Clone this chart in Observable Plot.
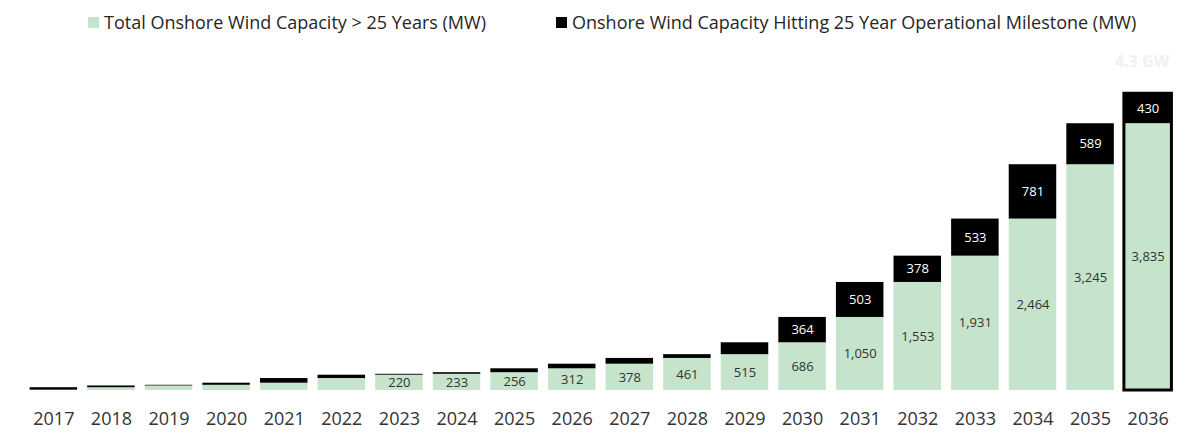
<!DOCTYPE html>
<html>
<head>
<meta charset="utf-8">
<script src="https://cdn.jsdelivr.net/npm/d3@7"></script>
<script src="https://cdn.jsdelivr.net/npm/@observablehq/plot@0.6"></script>
<style>
  html, body { margin: 0; padding: 0; background: #fff; overflow: hidden; }
  body { width: 1200px; height: 443px; font-family: "Open Sans", sans-serif; }
  #legend { position: relative; height: 40px; font-size: 18px; color: #262626; }
  .item { position: absolute; top: 10px; display: flex; align-items: center; white-space: nowrap; }
  .sw { width: 11px; height: 11px; margin-right: 5px; display: inline-block; }
  #chart svg { display: block; }
</style>
</head>
<body>
<div id="legend"></div>
<div id="chart"></div>
<script>
const years = ["2017","2018","2019","2020","2021","2022","2023","2024","2025","2026","2027","2028","2029","2030","2031","2032","2033","2034","2035","2036"];
const totalOver25 = [5, 40, 65, 75, 105, 172, 220, 233, 256, 312, 378, 461, 515, 686, 1050, 1553, 1931, 2464, 3245, 3835];
const hitting = [35, 25, 10, 30, 67, 48, 13, 23, 56, 66, 83, 54, 171, 364, 503, 378, 533, 781, 589, 430];
const seriesNames = ["Total Onshore Wind Capacity > 25 Years (MW)", "Onshore Wind Capacity Hitting 25 Year Operational Milestone (MW)"];
const seriesColors = ["#c5e4cb", "#000000"];
const highlightYear = "2036";
const annotation = "4.3 GW";

const rows = years.map((year, i) => ({
  year,
  green: totalOver25[i],
  black: hitting[i],
  total: totalOver25[i] + hitting[i]
}));
const fmt = d3.format(",");

// Legend
const legend = document.getElementById("legend");
const legendLeft = [88, 556];
seriesNames.forEach((name, i) => {
  const it = document.createElement("div");
  it.className = "item";
  it.style.left = legendLeft[i] + "px";
  it.innerHTML = `<span class="sw" style="background:${seriesColors[i]}"></span><span>${name}</span>`;
  legend.appendChild(it);
});

const chart = Plot.plot({
  width: 1200,
  height: 403,
  marginLeft: 19.5,
  marginRight: 18.5,
  marginTop: 23,
  marginBottom: 53,
  style: { fontFamily: "Open Sans, sans-serif", background: "#fff" },
  x: { domain: years, padding: 0.175, round: false, label: null },
  y: { domain: [0, 4700], axis: null },
  marks: [
    Plot.axisX({ tickSize: 0, tickPadding: 22, fontSize: 18, color: "#333", label: null }),
    Plot.barY(rows, { x: "year", y1: 0, y2: "green", fill: seriesColors[0] }),
    Plot.barY(rows, { x: "year", y1: "green", y2: "total", fill: seriesColors[1] }),
    Plot.barY(rows.filter(d => d.year === highlightYear), { x: "year", y1: 0, y2: "total", fill: "none", stroke: "#000", strokeWidth: 3 }),
    Plot.text(rows.filter(d => d.green >= 200), { x: "year", y: d => d.green / 2, text: d => fmt(d.green), fill: "#333", fontSize: 13 }),
    Plot.text(rows.filter(d => d.black >= 300), { x: "year", y: d => d.green + d.black / 2, text: d => fmt(d.black), fill: "#fff", fontSize: 13 }),
    Plot.text([annotation], { x: [highlightYear], frameAnchor: "top", dy: -8, dx: -6, text: d => d, fill: "#f0f0f0", fontSize: 16, fontWeight: "bold" })
  ]
});
document.getElementById("chart").appendChild(chart);
</script>
</body>
</html>
